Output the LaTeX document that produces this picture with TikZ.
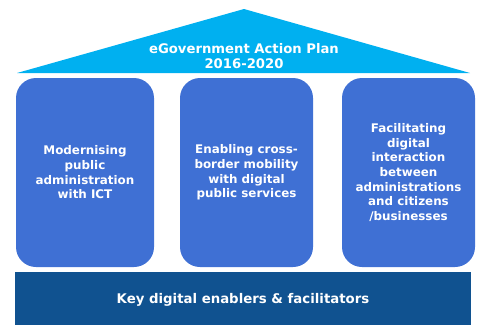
\documentclass[tikz,border=0pt]{standalone}
\usepackage{fontspec}
\setmainfont{DejaVu Sans}
\definecolor{roofblue}{RGB}{0,176,240}
\definecolor{pillarblue}{RGB}{63,112,212}
\definecolor{basblue}{RGB}{16,82,144}
\begin{document}
\begin{tikzpicture}[x=1pt,y=-1pt,
  lbl/.style={text=white,font=\bfseries\fontsize{11.9}{14.7}\selectfont,align=center,inner sep=0pt},
  pillar/.style={fill=pillarblue,rounded corners=20pt,draw=none}]
\useasboundingbox (0,0) rectangle (479,325);
\fill[roofblue] (17,73) -- (244,9) -- (470,73) -- cycle;
\node[lbl,font=\bfseries\fontsize{13.2}{15.5}\selectfont] (roof) at (244,56) {eGovernment Action Plan\\2016-2020};
\fill[pillar] (16,78) rectangle (154,267);
\fill[pillar] (180,78) rectangle (313,267);
\fill[pillar] (342,78) rectangle (475,267);
\node[lbl] (p1) at (85,172.5) {Modernising\\public\\administration\\with ICT};
\node[lbl] (p2) at (246.5,172.5) {Enabling cross-\\border mobility\\with digital\\public services};
\node[lbl] (p3) at (408.5,172.5) {Facilitating\\digital\\interaction\\between\\administrations\\and citizens\\/businesses};
\fill[basblue] (15,272) rectangle (471,325);
\node[lbl,font=\bfseries\fontsize{13.3}{15}\selectfont] (base) at (243,300) {Key digital enablers \& facilitators};
\end{tikzpicture}
\end{document}
